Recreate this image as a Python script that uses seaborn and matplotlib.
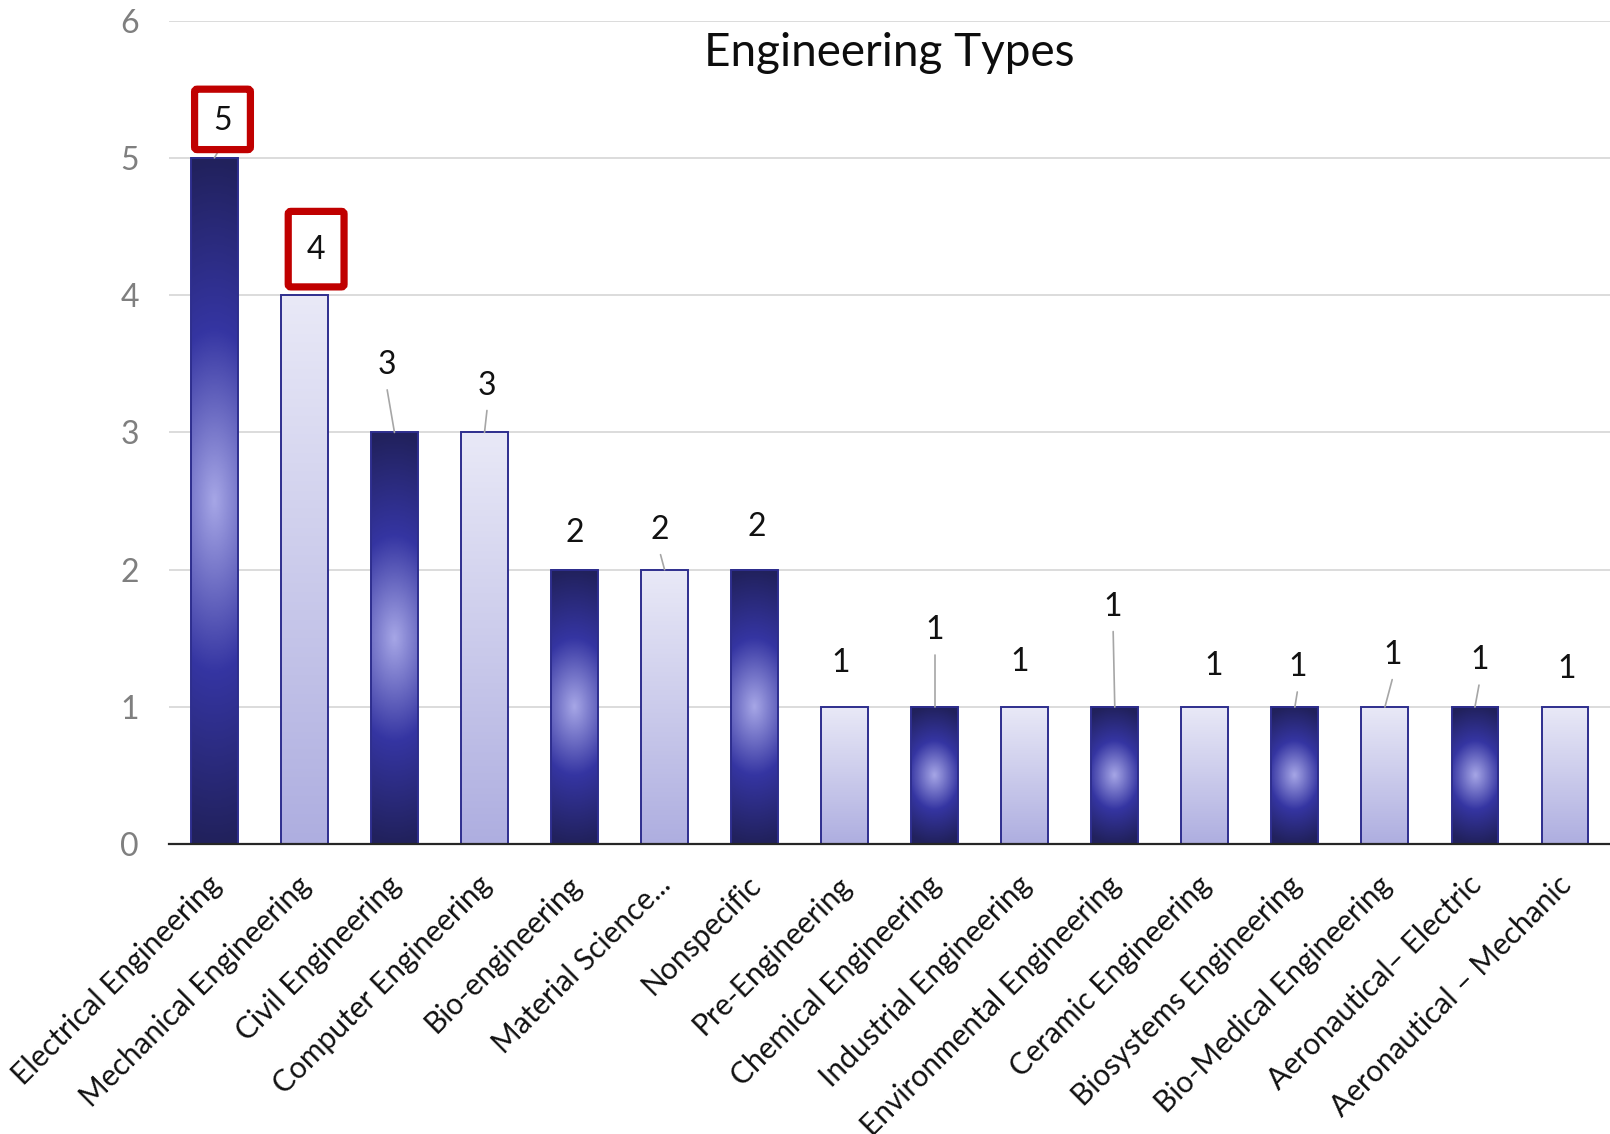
import numpy as np
import pandas as pd
import matplotlib
matplotlib.use("Agg")
import matplotlib.pyplot as plt
import matplotlib.transforms as mtransforms
import seaborn as sns
from matplotlib.colors import LinearSegmentedColormap
from matplotlib.patches import FancyBboxPatch

# data
categories = ["Electrical Engineering", "Mechanical Engineering", "Civil Engineering",
              "Computer Engineering", "Bio-engineering", "Material Science...",
              "Nonspecific", "Pre-Engineering", "Chemical Engineering",
              "Industrial Engineering", "Environmental Engineering", "Ceramic Engineering",
              "Biosystems Engineering", "Bio-Medical Engineering", "Aeronautical\u2013 Electric",
              "Aeronautical \u2013 Mechanic"]
counts = [5, 4, 3, 3, 2, 2, 2, 1, 1, 1, 1, 1, 1, 1, 1, 1]

# label placement: horizontal shift (bar units) and height of each value label
label_dx = [0.09, 0.13, -0.09, 0.03, 0.0, -0.05, 0.02, -0.05, 0.0, -0.06, -0.02, 0.10, 0.03, 0.09, 0.05, 0.02]
label_y = [5.27, 4.33, 3.49, 3.34, 2.27, 2.29, 2.31, 1.32, 1.56, 1.33, 1.73, 1.30, 1.29, 1.38, 1.34, 1.28]
has_leader = [True, False, True, True, False, True, False, False, True, False, True, False, True, True, True, False]
boxed = {0: (5.06, 5.50), 1: (4.06, 4.61)}

sns.set_theme(style="whitegrid")
plt.rcParams["font.family"] = ["Lato", "DejaVu Sans"]

fig = plt.figure(figsize=(16.1, 11.34), dpi=100)
ax = fig.add_axes([0.1052, 0.2554, 0.8948, 0.7265])

df = pd.DataFrame({"Type": categories, "Count": counts})
sns.barplot(data=df, x="Type", y="Count", ax=ax, width=0.52, color="white",
            edgecolor="#2e2e8e", linewidth=1.4, zorder=3)

dark_cmap = LinearSegmentedColormap.from_list(
    "dark", [(0, "#a6a6e6"), (0.5, "#3535a2"), (1, "#21215c")])
light_cmap = LinearSegmentedColormap.from_list("light", ["#aeaee0", "#e9e9f7"])

for i, p in enumerate(ax.patches):
    p.set_facecolor("none")
    x0, y0, w, h = p.get_x(), p.get_y(), p.get_width(), p.get_height()
    if i % 2 == 0:
        # radial glow, roughly round in pixels for short bars
        ratio = (w * 87.7) / (h * 133.7)
        k = 0.12 + 1.0 * ratio
        v = np.linspace(-1, 1, 300)[:, None]
        u = np.linspace(-1, 1, 60)[None, :]
        d = np.clip(np.sqrt(v ** 2 + (k * u) ** 2), 0, 1)
        img = dark_cmap(d)
    else:
        t = np.linspace(0, 1, 300)[:, None].repeat(4, axis=1)
        img = light_cmap(t)
    ax.imshow(img, extent=[x0, x0 + w, y0, y0 + h], origin="lower",
              aspect="auto", zorder=2, interpolation="bilinear")

for i, v in enumerate(counts):
    ax.text(i + label_dx[i], label_y[i], str(v), ha="center", va="center",
            fontsize=23, color="#111111", zorder=6)
    if has_leader[i]:
        ax.plot([i + label_dx[i] * 0.9, i], [label_y[i] - 0.18, v],
                color="#a6a6a6", lw=1.2, zorder=4)

for i, (b0, b1) in boxed.items():
    box = FancyBboxPatch((i + label_dx[i] - 0.31, b0), 0.62, b1 - b0,
                         boxstyle="round,pad=0,rounding_size=0.03",
                         mutation_aspect=0.66, facecolor="white",
                         edgecolor="#c00000", lw=5.2, zorder=5)
    ax.add_patch(box)

ax.set_xlim(-0.5, 15.5)
ax.set_ylim(0, 6)
ax.set_yticks(range(0, 7))
ax.set_xlabel("")
ax.set_ylabel("")
ax.grid(axis="y", color="#d9d9d9", lw=1.3)
ax.grid(axis="x", visible=False)
ax.set_axisbelow(True)
for s in ["left", "right", "top"]:
    ax.spines[s].set_visible(False)
ax.spines["bottom"].set_color("#262626")
ax.spines["bottom"].set_linewidth(1.6)
ax.spines["bottom"].set_zorder(7)

ax.tick_params(axis="y", length=0, pad=22, labelsize=23, labelcolor="#7f7f7f")
ax.tick_params(axis="x", length=0, pad=19, labelsize=21.5, labelcolor="#111111")
shift = mtransforms.ScaledTranslation(-0.08, 0, fig.dpi_scale_trans)
for lab in ax.get_xticklabels():
    lab.set_rotation(45)
    lab.set_ha("right")
    lab.set_rotation_mode("anchor")
    lab.set_transform(lab.get_transform() + shift)

ax.text(0.5, 0.96, "Engineering Types", transform=ax.transAxes, ha="center",
        va="center", fontsize=33, color="#0d0d0d")

fig.savefig("out.png", dpi=100, facecolor="white")
